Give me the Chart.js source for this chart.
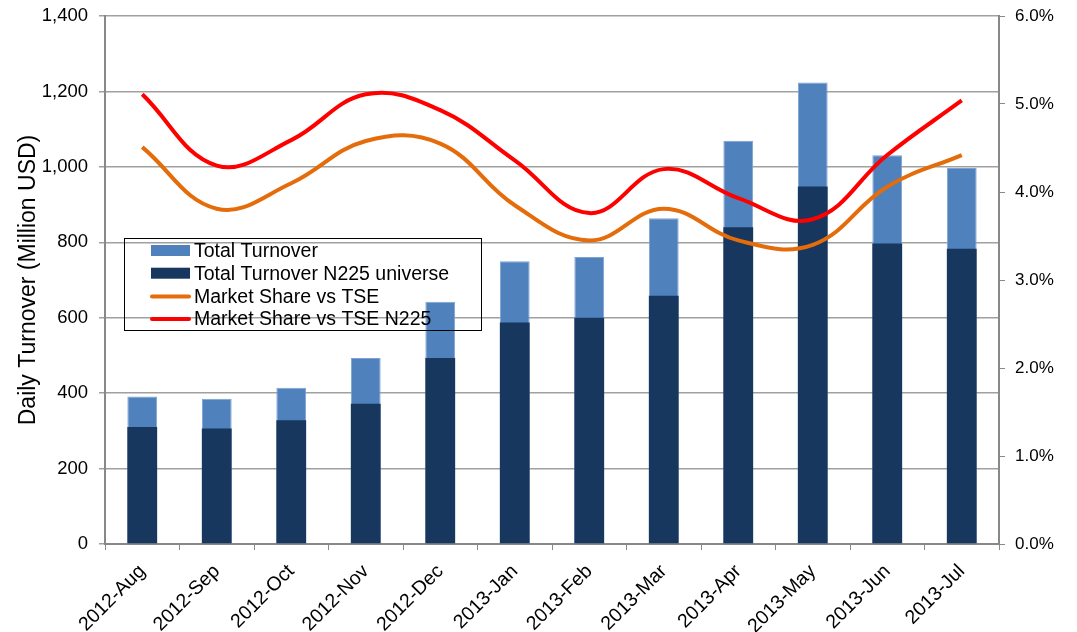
<!DOCTYPE html>
<html>
<head>
<meta charset="utf-8">
<script src="https://cdn.jsdelivr.net/npm/chart.js@4"></script>
<style>
    body { margin: 0; background: #fff; }
    #wrap { width: 1077px; height: 632px; }
</style>
</head>
<body>
<div id="wrap"><canvas id="turnoverChart" width="1077" height="632"></canvas></div>
<script>
// Monthly turnover and market share
const categories = ['2012-Aug', '2012-Sep', '2012-Oct', '2012-Nov', '2012-Dec', '2013-Jan',
    '2013-Feb', '2013-Mar', '2013-Apr', '2013-May', '2013-Jun', '2013-Jul'];
const totalTurnover = [391, 385, 414, 493, 642, 750, 761, 864, 1069, 1224, 1031, 997];
const n225Turnover = [310, 306, 328, 372, 493, 587, 600, 658, 840, 948, 797, 783];
const shareTSE = [4.51, 3.81, 4.10, 4.58, 4.55, 3.85, 3.45, 3.81, 3.45, 3.40, 4.06, 4.42];
const shareTSEN225 = [5.11, 4.30, 4.59, 5.11, 4.93, 4.36, 3.76, 4.26, 3.93, 3.69, 4.42, 5.04];
const leftTicks = [0, 200, 400, 600, 800, 1000, 1200, 1400];
const rightTicks = [0, 1, 2, 3, 4, 5, 6];

const FONT = '"Liberation Sans", Arial, sans-serif';

// Legend box drawn inside the plot, like the original
const boxLegend = {
    id: 'boxLegend',
    afterDraw(chart) {
        const ctx = chart.ctx;
        const x = 124, y = 238, w = 357, h = 92;
        ctx.save();
        ctx.strokeStyle = '#000';
        ctx.lineWidth = 1;
        ctx.strokeRect(x + 0.5, y + 0.5, w, h);
        ctx.font = '19.5px ' + FONT;
        ctx.textBaseline = 'middle';
        chart.data.datasets.forEach((ds, i) => {
            const cy = y + 13 + i * 22.7;
            if (ds.type === 'line') {
                ctx.strokeStyle = ds.borderColor;
                ctx.lineWidth = 4;
                ctx.lineCap = 'round';
                ctx.beginPath();
                ctx.moveTo(152, cy);
                ctx.lineTo(189, cy);
                ctx.stroke();
            } else {
                ctx.fillStyle = ds.backgroundColor;
                ctx.fillRect(151, cy - 6, 39, 11);
            }
            ctx.fillStyle = '#000';
            ctx.fillText(ds.label, 194, cy + 1);
        });
        ctx.restore();
    }
};

// keep the plot area where the original has it
function fixVertical(width) {
    return scale => {
        scale.width = width;
        scale.paddingTop = 0;
        scale.paddingBottom = 0;
    };
}

new Chart(document.getElementById('turnoverChart'), {
    data: {
        labels: categories,
        datasets: [
            {
                type: 'bar',
                label: 'Total Turnover',
                data: totalTurnover,
                backgroundColor: '#4F81BD',
                borderColor: '#7EA2D2',
                borderWidth: 1,
                grouped: false,
                barPercentage: 0.4,
                categoryPercentage: 1,
                yAxisID: 'y',
                order: 3
            },
            {
                type: 'bar',
                label: 'Total Turnover N225 universe',
                data: n225Turnover,
                backgroundColor: '#17375E',
                grouped: false,
                barPercentage: 0.4,
                categoryPercentage: 1,
                yAxisID: 'y',
                order: 2
            },
            {
                type: 'line',
                label: 'Market Share vs TSE',
                data: shareTSE,
                borderColor: '#E46C0A',
                borderWidth: 4,
                tension: 0.4,
                pointRadius: 0,
                yAxisID: 'y1',
                order: 1
            },
            {
                type: 'line',
                label: 'Market Share vs TSE N225',
                data: shareTSEN225,
                borderColor: '#FF0000',
                borderWidth: 4,
                tension: 0.4,
                pointRadius: 0,
                yAxisID: 'y1',
                order: 0
            }
        ]
    },
    options: {
        responsive: false,
        animation: false,
        layout: {
            padding: { top: 16, left: 0, right: 0, bottom: 0 }
        },
        plugins: {
            legend: { display: false },
            tooltip: { enabled: false }
        },
        scales: {
            x: {
                ticks: {
                    color: '#000',
                    font: { family: FONT, size: 19.5 },
                    minRotation: 45,
                    maxRotation: 45,
                    padding: 10
                },
                grid: {
                    offset: true,
                    drawOnChartArea: false,
                    drawTicks: true,
                    tickLength: 6,
                    color: '#888'
                },
                border: { color: '#888', width: 2 },
                afterFit(scale) {
                    scale.height = 88;
                    scale.paddingLeft = 0;
                    scale.paddingRight = 0;
                }
            },
            y: {
                position: 'left',
                min: 0,
                max: 1400,
                afterBuildTicks(scale) { scale.ticks = leftTicks.map(v => ({ value: v })); },
                ticks: {
                    color: '#000',
                    font: { family: FONT, size: 18.5 },
                    padding: 11,
                    callback: v => v.toLocaleString('en-US')
                },
                grid: {
                    color: '#A0A0A0',
                    lineWidth: 1.5,
                    tickLength: 6
                },
                border: { color: '#888', width: 2 },
                title: {
                    display: true,
                    text: 'Daily Turnover (Million USD)',
                    color: '#000',
                    font: { family: FONT, size: 23 },
                    padding: { top: 15, bottom: 0 }
                },
                afterFit: fixVertical(105)
            },
            y1: {
                position: 'right',
                min: 0,
                max: 6,
                afterBuildTicks(scale) { scale.ticks = rightTicks.map(v => ({ value: v })); },
                ticks: {
                    color: '#000',
                    font: { family: FONT, size: 17 },
                    padding: 10,
                    callback: v => v.toFixed(1) + '%'
                },
                grid: {
                    drawOnChartArea: false,
                    color: '#888',
                    tickLength: 6
                },
                border: { color: '#888', width: 2 },
                afterFit: fixVertical(78)
            }
        }
    },
    plugins: [boxLegend]
});
</script>
</body>
</html>
